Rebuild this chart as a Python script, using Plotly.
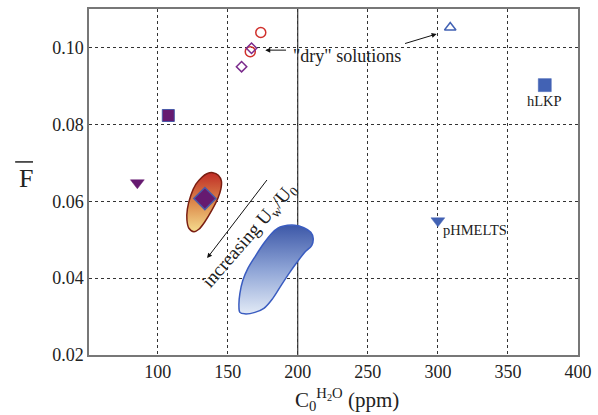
import plotly.graph_objects as go

# ---- data ----
x_ticks = [100, 150, 200, 250, 300, 350, 400]
y_ticks = [0.02, 0.04, 0.06, 0.08, 0.10]

# purple (filled) model points
purple_sq_x, purple_sq_y = [107.6], [0.0823]
purple_tri_x, purple_tri_y = [85.5], [0.0648]
purple_big_x, purple_big_y = [133.7], [0.0607]
# "dry" solutions
dry_circ_x, dry_circ_y = [173.6, 166.1], [0.1039, 0.0989]
dry_dia_x, dry_dia_y = [167.0, 159.9], [0.0998, 0.0950]
dry_tri_x, dry_tri_y = [308.8], [0.1052]
# blue (filled) points
hlkp_x, hlkp_y = [376.3], [0.0902]
phm_x, phm_y = [300.0], [0.0549]

# outlines of the two shaded regions
orange_x = [139.4, 143.3, 145.5, 145.1, 143.0, 138.7, 133.7, 129.4, 125.9, 122.3,
            120.9, 121.2, 123.7, 127.3, 131.6, 135.1, 139.4]
orange_y = [0.06742, 0.06677, 0.06521, 0.06313, 0.06078, 0.05766, 0.05466, 0.05271,
            0.05206, 0.05297, 0.05505, 0.05792, 0.06156, 0.06443, 0.06625, 0.06716, 0.06742]
blue_x = [189.3, 197.9, 204.3, 209.3, 211.0, 210.0, 205.0, 200.0, 194.3, 188.6, 182.2,
          175.8, 169.4, 162.2, 158.7, 158.0, 158.7, 160.8, 164.4, 170.1, 175.8, 181.5,
          185.8, 189.3]
blue_y = [0.05349, 0.05375, 0.05310, 0.05193, 0.05036, 0.04854, 0.04672, 0.04438,
          0.04151, 0.03839, 0.03474, 0.03214, 0.03109, 0.03070, 0.03109, 0.03292,
          0.03604, 0.03943, 0.04255, 0.04594, 0.04906, 0.05167, 0.05297, 0.05349]

FONT = "Liberation Serif"
PURPLE = "#661a70"
EDGE = "#4a5aa8"
BLUE = "#4262b4"
RED = "#d0302c"

fig = go.Figure()

fig.add_trace(go.Scatter(
    x=orange_x, y=orange_y, mode="lines", line=dict(color="#7a1e12", width=1.5, shape="spline"),
    fill="toself",
    fillgradient=dict(type="vertical",
                      colorscale=[[0, "#f5dc8e"], [0.45, "#de9050"], [1, "#c02c26"]]),
    hoverinfo="skip"))
fig.add_trace(go.Scatter(
    x=blue_x, y=blue_y, mode="lines", line=dict(color="#3a5cc0", width=1.5, shape="spline"),
    fill="toself",
    fillgradient=dict(type="vertical",
                      colorscale=[[0, "#e2eaf6"], [0.5, "#8ea4d6"], [1, "#3d58a8"]]),
    hoverinfo="skip"))

def pts(x, y, symbol, size, color, lcolor, lw):
    fig.add_trace(go.Scatter(x=x, y=y, mode="markers",
                             marker=dict(symbol=symbol, size=size, color=color,
                                         line=dict(color=lcolor, width=lw))))

pts(purple_sq_x, purple_sq_y, "square", 12, PURPLE, EDGE, 1)
pts(purple_tri_x, purple_tri_y, "triangle-down", 12, PURPLE, PURPLE, 0.5)
pts(purple_big_x, purple_big_y, "diamond", 17, PURPLE, EDGE, 1.5)
pts(dry_circ_x, dry_circ_y, "circle-open", 10, RED, RED, 1.5)
pts(dry_dia_x, dry_dia_y, "diamond-open", 8, "#7a2a8c", "#7a2a8c", 1.5)
pts(dry_tri_x, dry_tri_y, "triangle-up-open", 10, BLUE, BLUE, 1.5)
pts(hlkp_x, hlkp_y, "square", 13, BLUE, BLUE, 0.5)
pts(phm_x, phm_y, "triangle-down", 12, BLUE, BLUE, 0.5)

# solid vertical line at 200
fig.add_shape(type="line", xref="x", yref="paper", x0=200, x1=200, y0=0, y1=1,
              line=dict(color="#111", width=1), layer="below")
# overline for the y title
fig.add_shape(type="line", xref="paper", yref="paper", x0=-0.151, x1=-0.1145,
              y0=0.558, y1=0.558, line=dict(color="#222", width=1.5))

ann = []
ann.append(dict(x=hlkp_x[0], y=0.0861, xref="x", yref="y", text="hLKP", showarrow=False,
                font=dict(family=FONT, size=14.5, color="#222")))
ann.append(dict(x=302, y=0.0524, xref="x", yref="y", text="pHMELTS", showarrow=False,
                xanchor="left", font=dict(family=FONT, size=14.5, color="#222")))
ann.append(dict(x=234.9, y=0.0978, xref="x", yref="y", text="\"dry\" solutions",
                showarrow=False, font=dict(family=FONT, size=18, color="#222")))
ann.append(dict(x=165.6, y=0.0509, xref="x", yref="y",
                text="increasing U<sub>w</sub>/U<sub>0</sub>", textangle=-49,
                showarrow=False, font=dict(family=FONT, size=19, color="#222")))
# arrows
for (hx, hy, tx, ty) in [(176.8, 0.0993, 192.7, 0.0993),
                         (299.1, 0.1035, 275.5, 0.1009),
                         (135.3, 0.0452, 178.8, 0.0659)]:
    ann.append(dict(x=hx, y=hy, ax=tx, ay=ty, xref="x", yref="y", axref="x", ayref="y",
                    text="", showarrow=True, arrowhead=2, arrowsize=1, arrowwidth=1,
                    arrowcolor="#111", standoff=0, startstandoff=0))
# axis titles
ann.append(dict(x=0.528, y=-0.13, xref="paper", yref="paper", yanchor="middle",
                text="C<sub>0</sub><sup>H<sub>2</sub>O</sup> (ppm)", showarrow=False,
                font=dict(family=FONT, size=21, color="#222")))
ann.append(dict(x=-0.148, y=0.51, xref="paper", yref="paper", text="F", showarrow=False,
                font=dict(family=FONT, size=26, color="#222")))

fig.update_layout(
    width=598, height=415, margin=dict(l=89, r=20, t=9, b=60, autoexpand=False),
    paper_bgcolor="white", plot_bgcolor="white", showlegend=False,
    annotations=ann,
    font=dict(family=FONT, size=18, color="#222"),
)
fig.update_xaxes(range=[51, 400], tickvals=x_ticks, ticks="", showgrid=True,
                 gridcolor="#333", griddash="dot", gridwidth=1, automargin=False,
                 showline=True, linecolor="#777", linewidth=1.5, mirror=True,
                 zeroline=False, tickfont=dict(family=FONT, size=18, color="#222"))
fig.update_yaxes(range=[0.02, 0.11], tickvals=y_ticks, ticktext=["0.02", "0.04", "0.06", "0.08", "0.10"],
                 ticks="", showgrid=True, gridcolor="#333", griddash="dot", gridwidth=1,
                 automargin=False,
                 showline=True, linecolor="#777", linewidth=1.5, mirror=True,
                 zeroline=False, tickfont=dict(family=FONT, size=18, color="#222"))

fig.write_html("out.html", config={"displayModeBar": False},
               post_script="document.body.style.margin='0px';document.body.style.overflow='hidden';")
